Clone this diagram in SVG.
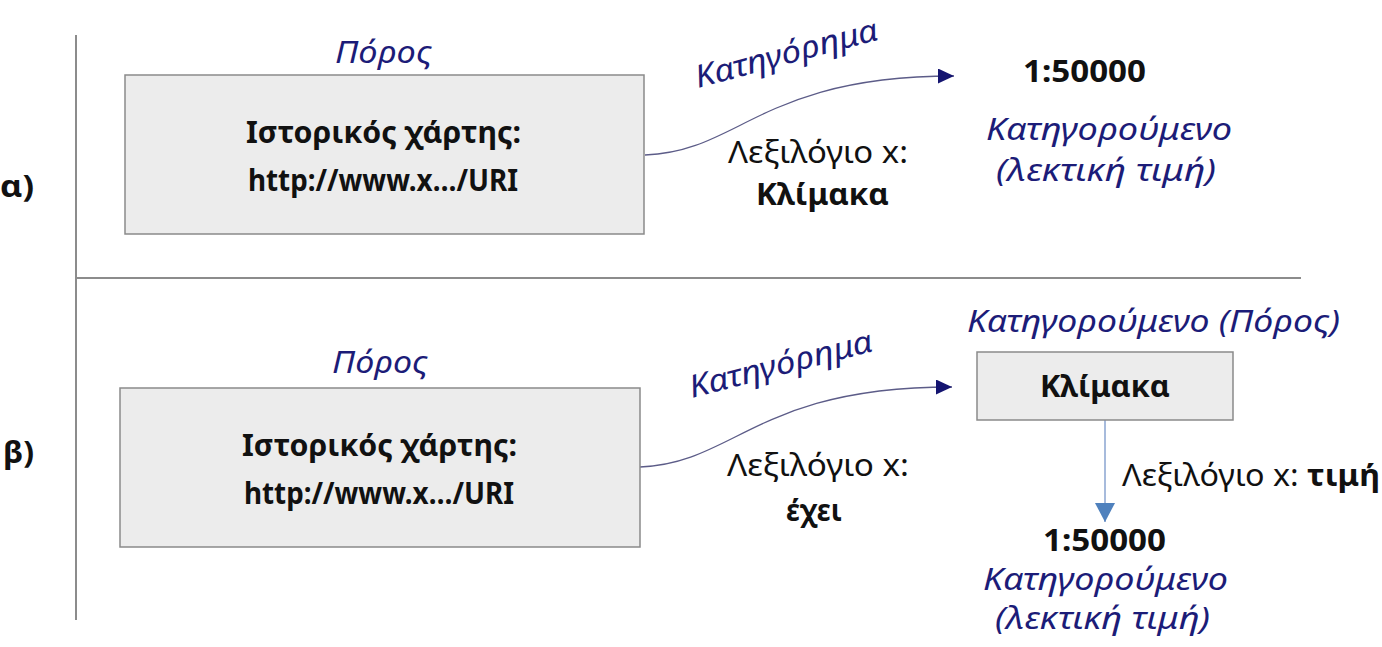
<svg xmlns="http://www.w3.org/2000/svg" width="1382" height="647" viewBox="0 0 1382 647">
<style>
text{font-family:"Noto Sans","Open Sans",sans-serif;font-size:31px;fill:#111}
.b{font-weight:bold}
.i{font-style:italic;fill:#1c1c78}
.box{fill:#ececec;stroke:#8a8a8a;stroke-width:1.5}
.sep{stroke:#8c8c8c;stroke-width:2;fill:none}
.edge{stroke:#5c5c88;stroke-width:1.3;fill:none}
</style>
<defs>
<marker id="ah" markerWidth="16" markerHeight="16" refX="16" refY="7.5" orient="auto" markerUnits="userSpaceOnUse">
<path d="M0,0 L16,7.5 L0,15 Z" fill="#141470"/>
</marker>
<marker id="ab" markerWidth="20" markerHeight="20" refX="19" refY="10" orient="auto" markerUnits="userSpaceOnUse">
<path d="M0,0 L19,10 L0,20 Z" fill="#4f81bd"/>
</marker>
</defs>
<g id="separators">
<line class="sep" x1="76" y1="35" x2="76" y2="620"/>
<line class="sep" x1="76" y1="278" x2="1301" y2="278"/>
</g>
<g id="labels">
<text class="b" x="0" y="197" font-size="34" textLength="34" lengthAdjust="spacingAndGlyphs">α)</text>
<text class="b" x="3" y="463" font-size="34" textLength="31" lengthAdjust="spacingAndGlyphs">β)</text>
</g>
<g id="connectors">
<path class="edge" d="M645,155 C740,152 760,76 954,76" marker-end="url(#ah)"/>
<path class="edge" d="M640,467 C736,463 756,387 952,387" marker-end="url(#ah)"/>
<path d="M1105,420 L1105,522" stroke="#8aa4d0" stroke-width="1.5" fill="none" marker-end="url(#ab)"/>
<text class="i" font-size="33" transform="translate(698,88) rotate(-15)" textLength="188" lengthAdjust="spacingAndGlyphs">Κατηγόρημα</text>
<text class="i" font-size="33" transform="translate(692,398) rotate(-14.5)" textLength="188" lengthAdjust="spacingAndGlyphs">Κατηγόρημα</text>
<text x="728" y="163" textLength="180" lengthAdjust="spacingAndGlyphs">Λεξιλόγιο x:</text>
<text class="b" x="756" y="205" textLength="133" lengthAdjust="spacingAndGlyphs">Κλίμακα</text>
<text x="727" y="476" textLength="182" lengthAdjust="spacingAndGlyphs">Λεξιλόγιο x:</text>
<text class="b" x="786" y="521" textLength="56" lengthAdjust="spacingAndGlyphs">έχει</text>
<text x="1122" y="486" textLength="258" lengthAdjust="spacingAndGlyphs">Λεξιλόγιο x: <tspan class="b">τιμή</tspan></text>
</g>
<g id="node-a-resource">
<text class="i" x="335" y="63" textLength="97" lengthAdjust="spacingAndGlyphs">Πόρος</text>
<rect class="box" x="125" y="75" width="519" height="159"/>
<text class="b" x="246" y="143" font-size="32" textLength="275" lengthAdjust="spacingAndGlyphs">Ιστορικός χάρτης:</text>
<text class="b" x="248" y="191" font-size="32" textLength="270" lengthAdjust="spacingAndGlyphs">http://www.x…/URI</text>
</g>
<g id="node-a-literal">
<text class="b" x="1023" y="82" textLength="123" lengthAdjust="spacingAndGlyphs">1:50000</text>
<text class="i" x="986" y="140" textLength="246" lengthAdjust="spacingAndGlyphs">Κατηγορούμενο</text>
<text class="i" x="996" y="181" textLength="220" lengthAdjust="spacingAndGlyphs">(λεκτική τιμή)</text>
</g>
<g id="node-b-resource">
<text class="i" x="332" y="373" textLength="96" lengthAdjust="spacingAndGlyphs">Πόρος</text>
<rect class="box" x="120" y="388" width="520" height="159"/>
<text class="b" x="242" y="456" font-size="32" textLength="275" lengthAdjust="spacingAndGlyphs">Ιστορικός χάρτης:</text>
<text class="b" x="244" y="504" font-size="32" textLength="270" lengthAdjust="spacingAndGlyphs">http://www.x…/URI</text>
</g>
<g id="node-b-scale">
<text class="i" x="967" y="332" textLength="373" lengthAdjust="spacingAndGlyphs">Κατηγορούμενο (Πόρος)</text>
<rect class="box" x="977" y="352" width="256" height="68"/>
<text class="b" x="1040" y="397" textLength="130" lengthAdjust="spacingAndGlyphs">Κλίμακα</text>
</g>
<g id="node-b-literal">
<text class="b" x="1043" y="551" font-size="28" textLength="123" lengthAdjust="spacingAndGlyphs">1:50000</text>
<text class="i" x="983" y="590" font-size="29" textLength="245" lengthAdjust="spacingAndGlyphs">Κατηγορούμενο</text>
<text class="i" x="995" y="629" textLength="215" lengthAdjust="spacingAndGlyphs">(λεκτική τιμή)</text>
</g>
</svg>
